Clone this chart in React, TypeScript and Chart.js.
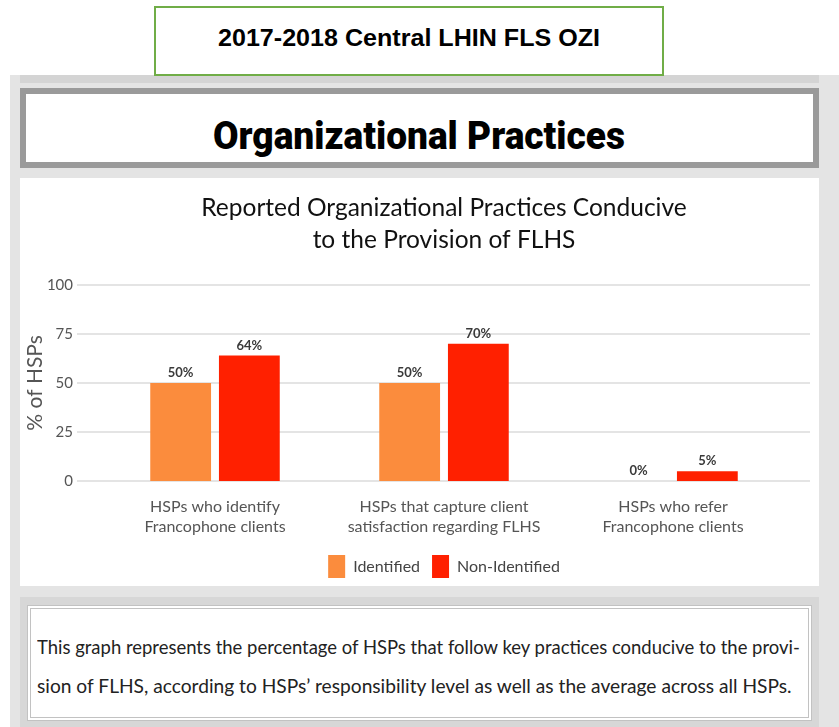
import React, { useEffect, useRef } from "react";
import { Chart, registerables } from "chart.js";

Chart.register(...registerables);

// ---- data ----
const categories: string[][] = [
  ["HSPs who identify", "Francophone clients"],
  ["HSPs that capture client", "satisfaction regarding FLHS"],
  ["HSPs who refer", "Francophone clients"],
];
const identified: number[] = [50, 50, 0];
const nonIdentified: number[] = [64, 70, 5];
const seriesNames: string[] = ["Identified", "Non-Identified"];
const yTicks: number[] = [0, 25, 50, 75, 100];
const chartTitle: string[] = ["Reported Organizational Practices Conducive", "to the Provision of FLHS"];
const yAxisTitle = "% of HSPs";
const headerTop = "2017-2018 Central LHIN FLS OZI";
const sectionTitle = "Organizational Practices";
const noteLines: string[] = [
  "This graph represents the percentage of HSPs that follow key practices conducive to the provi-",
  "sion of FLHS, according to HSPs\u2019 responsibility level as well as the average across all HSPs.",
];

const ORANGE = "#FB8C3D";
const RED = "#FF2000";

let measureCtx: CanvasRenderingContext2D | null = null;
function measure(text: string, font: string): number {
  if (!measureCtx) measureCtx = document.createElement("canvas").getContext("2d");
  measureCtx!.font = font;
  return measureCtx!.measureText(text).width;
}

function FitText(props: {
  text: string;
  family: string;
  size: number;
  weight: string;
  left: number;
  centerY: number;
  width: number;
  color: string;
}) {
  const { text, family, size, weight, left, centerY, width, color } = props;
  const natural = measure(text, `${weight} ${size}px ${family}`);
  const s = natural > 0 ? width / natural : 1;
  const h = size * 2;
  return (
    <div
      style={{
        position: "absolute",
        left,
        top: centerY - h / 2,
        height: h,
        fontFamily: family,
        fontSize: size,
        fontWeight: weight as any,
        lineHeight: h + "px",
        whiteSpace: "nowrap",
        transform: `scaleX(${s})`,
        transformOrigin: "left center",
        color,
      }}
    >
      {text}
    </div>
  );
}

const gridExtend = {
  id: "gridExtend",
  beforeDatasetsDraw(chart: any) {
    const { ctx, chartArea, scales } = chart;
    const y = scales.y;
    ctx.save();
    ctx.strokeStyle = "#e4e4e4";
    ctx.lineWidth = 2;
    y.ticks.forEach((t: any) => {
      const py = Math.round(y.getPixelForValue(t.value));
      ctx.beginPath();
      ctx.moveTo(chartArea.left - 23.5, py);
      ctx.lineTo(chartArea.right + 22.5, py);
      ctx.stroke();
    });
    ctx.restore();
  },
};

const valueLabels = {
  id: "valueLabels",
  afterDatasetsDraw(chart: any) {
    const { ctx } = chart;
    ctx.save();
    ctx.font = "bold 13px Lato";
    ctx.fillStyle = "#3a3a3a";
    ctx.textAlign = "center";
    ctx.textBaseline = "middle";
    chart.data.datasets.forEach((ds: any, di: number) => {
      const meta = chart.getDatasetMeta(di);
      meta.data.forEach((el: any, i: number) => {
        ctx.fillText(`${ds.data[i]}%`, el.x, el.y - 10);
      });
    });
    ctx.restore();
  },
};

function BarChart() {
  const ref = useRef<HTMLCanvasElement | null>(null);
  useEffect(() => {
    if (!ref.current) return;
    Chart.defaults.font.family = "Lato";
    const chart = new Chart(ref.current, {
      type: "bar",
      data: {
        labels: categories as any,
        datasets: [
          {
            label: seriesNames[0],
            data: identified,
            backgroundColor: ORANGE,
            borderWidth: 0,
            categoryPercentage: 0.6,
            barPercentage: 0.885,
          },
          {
            label: seriesNames[1],
            data: nonIdentified,
            backgroundColor: RED,
            borderWidth: 0,
            categoryPercentage: 0.6,
            barPercentage: 0.885,
          },
        ],
      },
      options: {
        animation: false,
        responsive: false,
        maintainAspectRatio: false,
        layout: { padding: { left: 0, right: 31.5, top: 0, bottom: 0 } },
        plugins: {
          title: {
            display: true,
            text: chartTitle,
            fullSize: false,
            color: "#111111",
            font: { family: "Lato", size: 24.5, weight: "normal", lineHeight: 32 / 24.5 },
            padding: { top: 14, bottom: 29 },
          },
          legend: {
            position: "bottom",
            fullSize: false,
            labels: {
              boxWidth: 17,
              boxHeight: 23,
              padding: 12,
              color: "#444",
              font: { family: "Lato", size: 16 },
            },
          },
          tooltip: { enabled: false },
        },
        scales: {
          x: {
            grid: { display: false, drawTicks: false },
            border: { display: false },
            ticks: {
              color: "#555",
              font: { family: "Lato", size: 16, lineHeight: 1.25 },
              padding: 16,
              maxRotation: 0,
              autoSkip: false,
            },
            afterFit: (s: any) => {
              s.height = 62;
            },
          },
          y: {
            min: 0,
            max: 100,
            grid: { display: false, drawTicks: false },
            border: { display: false },
            ticks: {
              color: "#555",
              font: { family: "Lato", size: 15 },
              padding: 27.5,
            },
            afterBuildTicks: (s: any) => {
              s.ticks = yTicks.map((v) => ({ value: v }));
            },
            title: {
              display: true,
              text: yAxisTitle,
              color: "#555",
              font: { family: "Lato", size: 21 },
              padding: { top: 2.4, bottom: 0 },
            },
            afterFit: (s: any) => {
              s.width = 80.5;
            },
          },
        },
      } as any,
      plugins: [gridExtend, valueLabels],
    });
    return () => chart.destroy();
  }, []);
  return (
    <canvas
      ref={ref}
      width={799}
      height={410}
      style={{ position: "absolute", left: 20, top: 178, width: 799, height: 410, display: "block" }}
    />
  );
}

export default function App() {
  return (
    <div
      style={{
        position: "absolute",
        left: 0,
        top: 0,
        width: 839,
        height: 727,
        background: "#ffffff",
        overflow: "hidden",
      }}
    >
      {/* gray panel */}
      <div style={{ position: "absolute", left: 10, top: 75, width: 829, height: 652, background: "#e4e4e4" }} />
      <div style={{ position: "absolute", left: 20, top: 75, width: 799, height: 8, background: "#d4d4d4" }} />

      {/* green header box */}
      <div
        style={{
          position: "absolute",
          left: 154,
          top: 6,
          width: 510,
          height: 70,
          boxSizing: "border-box",
          border: "2px solid #70ad47",
          background: "#ffffff",
        }}
      />
      <FitText
        text={headerTop}
        family="Liberation Sans"
        size={24}
        weight="bold"
        left={218}
        centerY={38}
        width={382}
        color="#000000"
      />

      {/* section title box */}
      <div
        style={{
          position: "absolute",
          left: 20,
          top: 88,
          width: 799,
          height: 80,
          boxSizing: "border-box",
          border: "6px solid #9a9a9a",
          background: "#ffffff",
        }}
      />
      <FitText
        text={sectionTitle}
        family="Roboto"
        size={38}
        weight="900"
        left={213}
        centerY={136}
        width={412}
        color="#000000"
      />

      {/* chart area */}
      <div style={{ position: "absolute", left: 20, top: 178, width: 799, height: 408, background: "#ffffff" }} />
      <BarChart />

      {/* note section */}
      <div style={{ position: "absolute", left: 20, top: 597, width: 799, height: 130, background: "#d7d7d7" }} />
      <div
        style={{
          position: "absolute",
          left: 27,
          top: 605,
          width: 785,
          height: 116,
          boxSizing: "border-box",
          border: "4px double #c2c2c2",
          background: "#ffffff",
        }}
      />
      <FitText
        text={noteLines[0]}
        family="Lato"
        size={19}
        weight="normal"
        left={37}
        centerY={647}
        width={764}
        color="#222222"
      />
      <FitText
        text={noteLines[1]}
        family="Lato"
        size={19}
        weight="normal"
        left={37}
        centerY={685.5}
        width={756}
        color="#222222"
      />
    </div>
  );
}
